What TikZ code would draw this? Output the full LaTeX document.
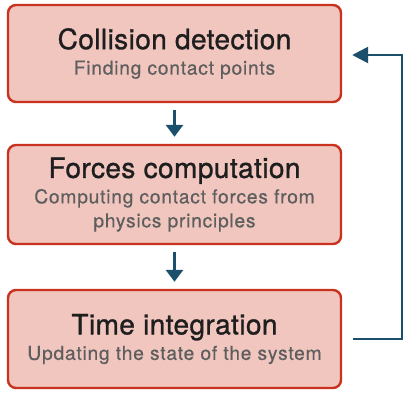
\documentclass[tikz,border=0pt]{standalone}
\usepackage{fontspec}
\setmainfont{TeX Gyre Heros}
\newfontfamily\headfont[LetterSpace=1.5,FakeBold=1.1]{TeX Gyre Heros}
\newfontfamily\subfont[LetterSpace=4,FakeBold=0.5]{TeX Gyre Heros}
\usetikzlibrary{arrows.meta}
\definecolor{boxfill}{HTML}{F0C6BF}
\definecolor{boxline}{HTML}{C8321E}
\definecolor{flowcol}{HTML}{1B4F6B}
\definecolor{headcol}{HTML}{1E1E1E}
\definecolor{subcol}{HTML}{5E5E5E}
\newcommand{\head}[1]{{\headfont\fontsize{28}{28}\selectfont\color{headcol}#1}}
\newcommand{\sub}[1]{{\subfont\fontsize{19.2}{24}\selectfont\color{subcol}#1}}

\begin{document}
\begin{tikzpicture}[x=1pt, y=-1pt,
  stage/.style={draw=boxline, fill=boxfill, line width=2.4pt, rounded corners=8pt,
    minimum width=333pt, align=center, inner sep=0pt,
    font=\fontsize{19.2}{24}\selectfont},
  flow/.style={draw=flowcol, line width=3.5pt, -{Triangle[width=17pt,length=12pt]}},
  back/.style={draw=flowcol, line width=2.6pt, -{Triangle[width=16pt,length=16pt]}}]
\useasboundingbox (0,0) rectangle (403,394);
\node[stage, minimum height=97pt] (collide) at (174.5,53.5)
  {\head{Collision detection}\\[1.5pt]\sub{Finding contact points}};
\node[stage, minimum height=99pt] (forces) at (174.5,194.5)
  {\head{Forces computation}\\[1.5pt]\sub{Computing contact forces from}\\\sub{physics principles}};
\node[stage, minimum height=98pt] (integ) at (174.5,339)
  {\head{Time integration}\\[1.5pt]\sub{Updating the state of the system}};
\draw[flow] ([yshift=-7pt]collide.south) -- ([yshift=7pt]forces.north);
\draw[flow] ([yshift=-7pt]forces.south) -- ([yshift=7pt]integ.north);
\coordinate (loopstart) at ([xshift=11pt]integ.east);
\coordinate (loopend) at ([xshift=10pt,yshift=-1.5pt]collide.east);
\draw[back] (loopstart) -- ++(49,0) |- (loopend);
\end{tikzpicture}
\end{document}
